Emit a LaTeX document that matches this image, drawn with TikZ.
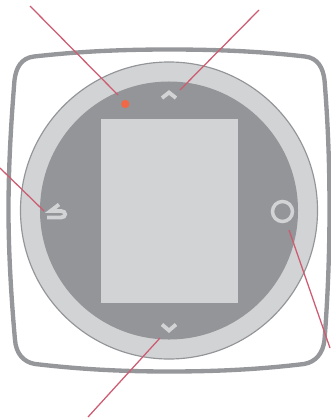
\documentclass[tikz,border=0pt]{standalone}
\usetikzlibrary{positioning,calc}
\definecolor{framegray}{RGB}{150,151,155}
\definecolor{dialgray}{RGB}{147,149,152}
\definecolor{bezelgray}{RGB}{209,211,212}
\definecolor{callout}{RGB}{205,92,114}
\definecolor{ledorange}{RGB}{241,104,72}
\begin{document}
\begin{tikzpicture}[
  x=0.03cm, y=-0.03cm,
  bezel/.style={circle, draw=dialgray, fill=bezelgray, line width=0.35mm, inner sep=0pt, minimum size=8.91cm},
  dial/.style={circle, fill=dialgray, inner sep=0pt, minimum size=7.74cm},
  screen/.style={rectangle, fill=bezelgray, inner sep=0pt, minimum width=4.11cm, minimum height=5.52cm},
  led/.style={circle, fill=ledorange, inner sep=0pt, minimum size=0.25cm},
  okbtn/.style={circle, draw=bezelgray, line width=1.05mm, inner sep=0pt, minimum size=0.6cm},
  icon/.style={draw=bezelgray, line width=1.15mm, line join=miter},
  lead/.style={draw=callout, line width=0.38mm}]
\useasboundingbox (0,0) rectangle (330,419);
\draw[framegray, line width=1.3mm]
  (169,49.5) .. controls (230,49.5) and (270,52.5) .. (305,56.5)
  .. controls (318,58) and (323,68) .. (324.5,80)
  .. controls (328.5,130) and (329.5,170) .. (329.5,210.5)
  .. controls (329.5,250) and (328,295) .. (324.5,340)
  .. controls (323,353) and (316,362) .. (304,364)
  .. controls (270,368) and (230,371.5) .. (169,371.5)
  .. controls (110,371.5) and (70,368) .. (35,364)
  .. controls (23,362) and (16,353) .. (15,340)
  .. controls (11,295) and (8.5,250) .. (8.5,210.5)
  .. controls (8.5,170) and (10.5,130) .. (14.5,80)
  .. controls (16,68) and (21,58) .. (34,56.5)
  .. controls (70,52.5) and (110,49.5) .. (169,49.5) -- cycle;
\node[bezel] (rim) at (169,210.5) {};
\node[dial] (face) at (169,210.5) {};
\node[screen] (lcd) at (169.5,211) {};
\node[led] (lamp) at (125.3,104) {};
\node[okbtn] (ok) at (282.5,211.5) {};
\draw[icon] (162,98) -- (169,92.5) -- (176,98);
\draw[icon] (162,324.5) -- (169,330.5) -- (176,324.5);
\draw[icon] (59,204.5) -- (50.5,211) -- (61,211) .. controls (66.5,211) and (66.5,217.5) .. (61,217.5) -- (47,217.5);
\coordinate (a1) at (30,6);
\coordinate (a2) at (118,95);
\coordinate (b1) at (259,10);
\coordinate (b2) at (180,90);
\coordinate (c1) at (0,168);
\coordinate (c2) at (44,211);
\coordinate (d1) at (330,348);
\coordinate (d2) at (289,230);
\coordinate (e1) at (88,417);
\coordinate (e2) at (160,338);
\draw[lead] (a1) -- (a2);
\draw[lead] (b1) -- (b2);
\draw[lead] (c1) -- (c2);
\draw[lead] (d1) -- (d2);
\draw[lead] (e1) -- (e2);
\end{tikzpicture}
\end{document}
